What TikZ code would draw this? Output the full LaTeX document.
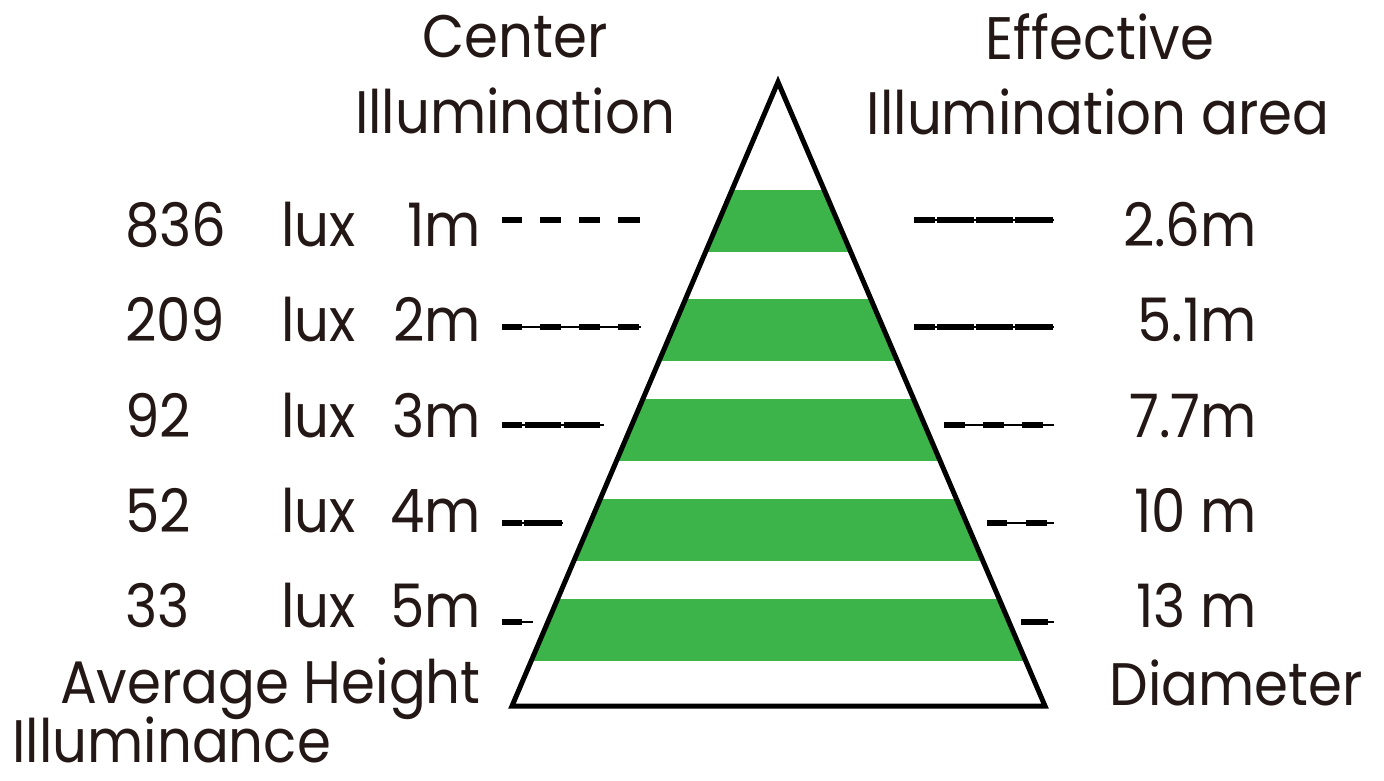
\documentclass[tikz,border=0pt]{standalone}
\usepackage{fontspec}
\setmainfont{Poppins}[FakeStretch=0.91]
\definecolor{txt}{RGB}{35,24,21}
\definecolor{band}{RGB}{61,180,74}
\begin{document}
\begin{tikzpicture}[x=1pt,y=-1pt,
  lbl/.style={inner sep=0pt, text=txt, font=\fontsize{60}{62}\selectfont},
  thickseg/.style={line width=6pt, black},
  thinseg/.style={line width=1.6pt, black},
  outline/.style={line width=5pt, black, line join=miter}]
\useasboundingbox (0,0) rectangle (1384,780);
\fill[white] (0,0) rectangle (1384,780);

% triangle
\coordinate (apex) at (778,82);
\coordinate (bl) at (512,706);
\coordinate (br) at (1045,706);
\begin{scope}
  \clip (apex) -- (bl) -- (br) -- cycle;
  \foreach \t in {190,299,399,499,599}
    \fill[band] (400,\t) rectangle (1200,\t+62);
\end{scope}
\draw[outline] (apex) -- (bl) -- (br) -- cycle;

% headings
\node[lbl, anchor=base] (c1) at (515,57) {Center};
\node[lbl, anchor=base] (c2) at (515,133) {Illumination};
\node[lbl, anchor=base] (e1) at (1100,59) {Effective};
\node[lbl, anchor=base] (e2) at (1098,134) {Illumination area};

% left rows
\foreach \n/\v/\m/\b in {1/836/1m/246, 2/209/2m/341, 3/92/3m/437, 4/52/4m/532, 5/33/5m/627}{
  \node[lbl, anchor=base west] (v\n) at (125,\b) {\v};
  \node[lbl, anchor=base west] (l\n) at (281,\b) {lux};
  \node[lbl, anchor=base east] (m\n) at (481,\b) {\m};
}
% right rows
\foreach \n/\d/\b in {1/2.6m/246, 2/5.1m/341, 3/7.7m/437, 4/10 m/532, 5/13 m/627}{
  \node[lbl, anchor=base east] (d\n) at (1257,\b) {\d};
}

% bottom labels
\node[lbl, anchor=base east] (avg) at (481,703) {Average Height};
\node[lbl, anchor=base west] (ill) at (12,762) {Illuminance};
\node[lbl, anchor=base east] (dia) at (1363,705) {Diameter};

% left dash lines
\foreach \a/\e in {502/522,540/561,579/600,618/640}
  \draw[thickseg] (\a,220) -- (\e,220);
\draw[thinseg] (502,327) -- (641,327);
\foreach \a/\e in {502/522,540/561,579/600,618/639}
  \draw[thickseg] (\a,327) -- (\e,327);
\draw[thinseg] (502,425) -- (604,425);
\foreach \a/\e in {502/522,525/561,564/600}
  \draw[thickseg] (\a,425) -- (\e,425);
\draw[thinseg] (502,523) -- (563,523);
\foreach \a/\e in {502/522,524/562}
  \draw[thickseg] (\a,523) -- (\e,523);
\draw[thinseg] (502,622) -- (533,622);
\draw[thickseg] (502,622) -- (522,622);

% right dash lines
\draw[thinseg] (914,220) -- (1054,220);
\foreach \a/\e in {914/935,937/974,976/1013,1015/1053}
  \draw[thickseg] (\a,220) -- (\e,220);
\draw[thinseg] (914,327) -- (1054,327);
\foreach \a/\e in {914/935,937/974,976/1013,1015/1053}
  \draw[thickseg] (\a,327) -- (\e,327);
\draw[thinseg] (944,425) -- (1054,425);
\foreach \a/\e in {944/965,983/1004,1022/1043}
  \draw[thickseg] (\a,425) -- (\e,425);
\draw[thinseg] (987,523) -- (1054,523);
\foreach \a/\e in {987/1007,1026/1047}
  \draw[thickseg] (\a,523) -- (\e,523);
\draw[thinseg] (1021,622) -- (1054,622);
\draw[thickseg] (1021,622) -- (1048,622);
\end{tikzpicture}
\end{document}
